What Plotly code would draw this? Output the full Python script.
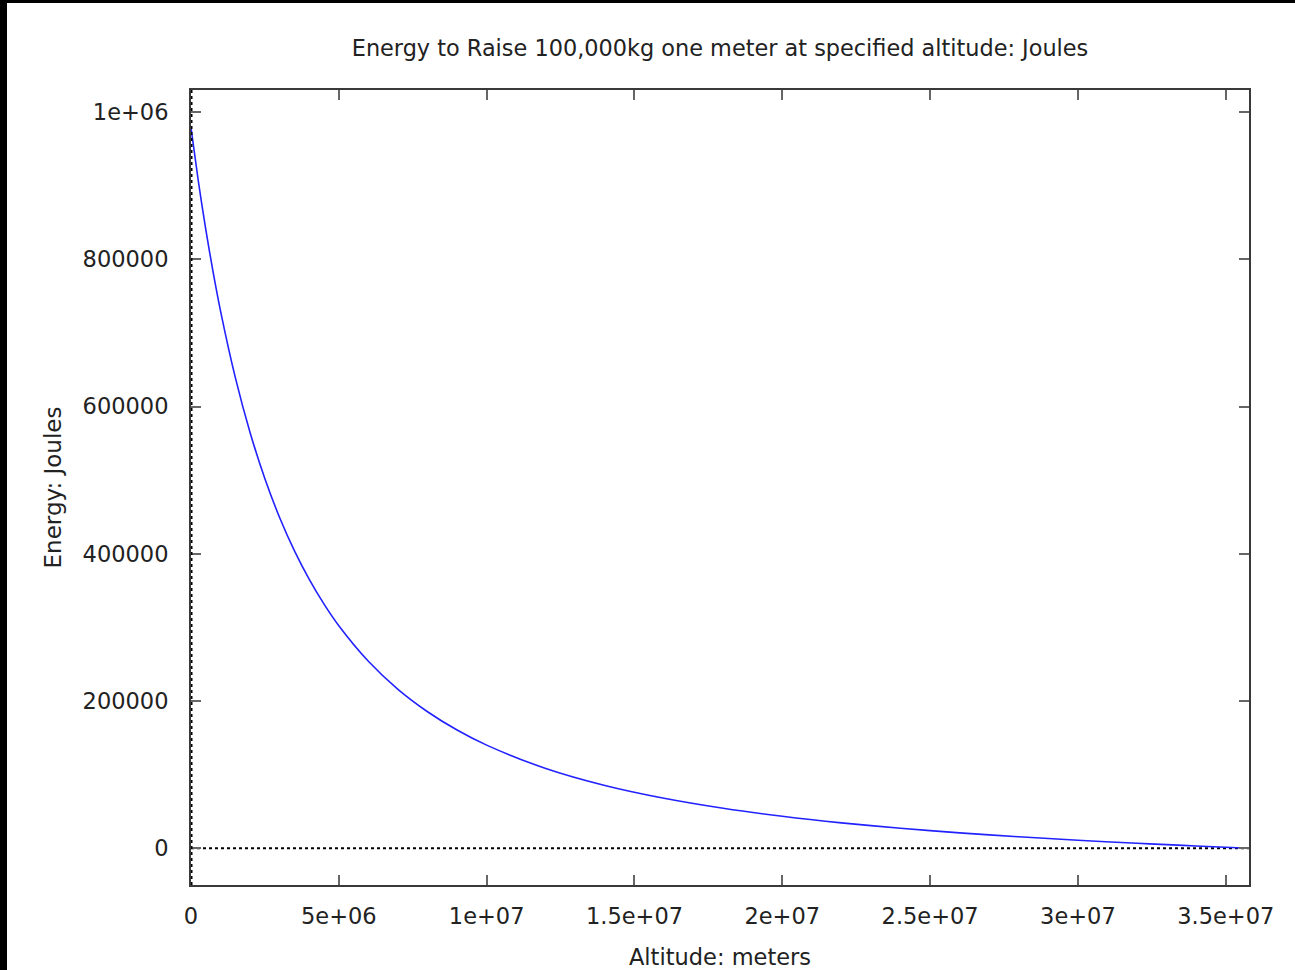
import plotly.graph_objects as go

# Data
altitude_m = [0, 2.5e5, 5e5, 7.5e5, 1e6, 1.5e6, 2e6, 2.5e6, 3e6, 3.5e6, 4e6, 4.5e6,
              5e6, 6e6, 7e6, 8e6, 9e6, 1e7, 1.2e7, 1.4e7, 1.6e7, 1.8e7, 2e7,
              2.2e7, 2.4e7, 2.6e7, 2.8e7, 3e7, 3.2e7, 3.3e7, 3.4e7, 3.5786e7]
energy_j = [978600, 905700, 840600, 782300, 729700, 639200, 564400, 501800, 448900,
            403800, 365100, 331500, 302200, 253900, 215800, 185400, 160500, 140000,
            108300, 85200, 67800, 54200, 43300, 34400, 27100, 20800, 15500, 10800,
            6700, 4800, 3000, 0]

x_tickvals = [0, 5e6, 1e7, 1.5e7, 2e7, 2.5e7, 3e7, 3.5e7]
x_ticktext = ["0", "5e+06", "1e+07", "1.5e+07", "2e+07", "2.5e+07", "3e+07", "3.5e+07"]
y_tickvals = [0, 200000, 400000, 600000, 800000, 1000000]
y_ticktext = ["0", "200000", "400000", "600000", "800000", "1e+06"]

X_RANGE = [0, 35786000]
Y_RANGE = [-50000, 1030000]

W, H = 1295, 970
L, R, T, B = 191, 46, 90, 85
pw, ph = W - L - R, H - T - B

FONT = "DejaVu Sans"
TXT = "#222222"

fig = go.Figure()
fig.add_trace(go.Scatter(
    x=altitude_m, y=energy_j, mode="lines",
    line=dict(color="#2222ff", width=1.6, shape="spline", smoothing=0.8),
    showlegend=False, hoverinfo="skip"))

axis_common = dict(
    showgrid=False, zeroline=False, showline=True, linecolor="#3a3a3a", linewidth=2,
    mirror="ticks", ticks="inside", ticklen=10, tickwidth=2, tickcolor="#666666",
    tickfont=dict(family=FONT, size=22.5, color=TXT), automargin=False,
)

fig.update_layout(
    width=W, height=H,
    margin=dict(l=L, r=R, t=T, b=B, pad=0, autoexpand=False),
    paper_bgcolor="white", plot_bgcolor="white",
    title=dict(text="Energy to Raise 100,000kg one meter at specified altitude: Joules",
               x=(L + pw / 2) / W, xanchor="center", y=1 - 48 / H, yanchor="middle",
               font=dict(family=FONT, size=22.4, color=TXT)),
    xaxis=dict(range=X_RANGE, tickvals=x_tickvals, ticktext=x_ticktext,
               ticklabelstandoff=10,
               title=dict(text="Altitude: meters", standoff=22,
                          font=dict(family=FONT, size=22.5, color=TXT)),
               **axis_common),
    yaxis=dict(range=Y_RANGE, tickvals=y_tickvals, ticktext=y_ticktext,
               ticklabelstandoff=16,
               title=dict(text="Energy: Joules", standoff=15,
                          font=dict(family=FONT, size=23, color=TXT)),
               **axis_common),
)

# dotted zero axes (gnuplot style)
fig.add_shape(type="line", xref="x", yref="y", x0=X_RANGE[0], x1=X_RANGE[1], y0=0, y1=0,
              line=dict(color="black", width=2, dash="dot"), layer="below")
fig.add_shape(type="line", xref="x", yref="y", x0=0, x1=0, y0=Y_RANGE[0], y1=Y_RANGE[1],
              line=dict(color="black", width=3, dash="dot"), layer="above")

# black screen-edge strips of the screenshot
fig.add_shape(type="rect", xref="paper", yref="paper",
              x0=-L / pw, x1=(7 - L) / pw, y0=-B / ph, y1=(H - B) / ph,
              line=dict(width=0), fillcolor="black", layer="above")
fig.add_shape(type="rect", xref="paper", yref="paper",
              x0=-L / pw, x1=(W - L) / pw, y0=(H - B - 3) / ph, y1=(H - B) / ph,
              line=dict(width=0), fillcolor="black", layer="above")

fig.write_html("out.html", config={"displayModeBar": False},
               post_script="document.body.style.margin='0';document.body.style.overflow='hidden';")
